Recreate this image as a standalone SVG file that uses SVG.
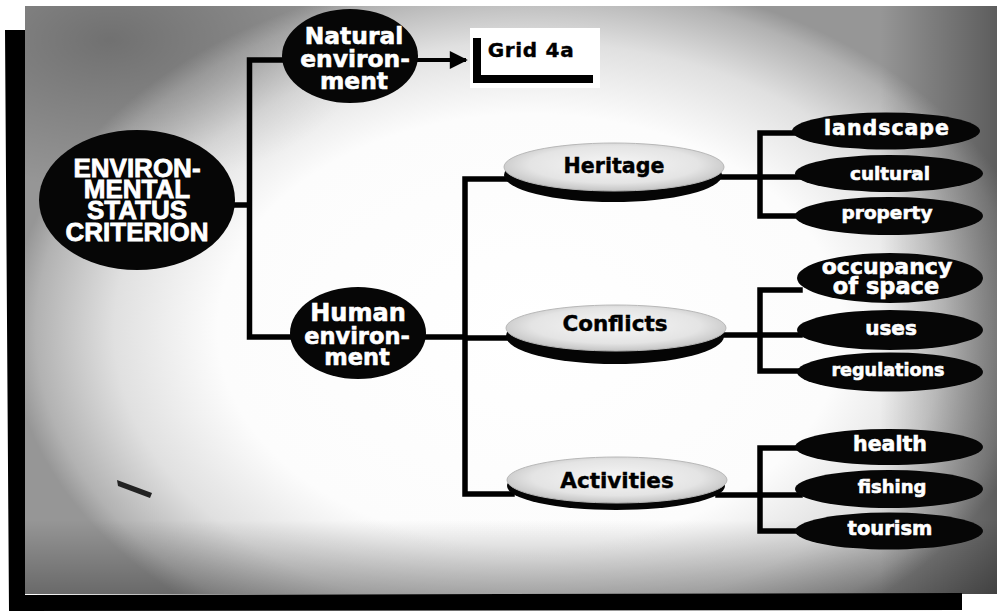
<svg xmlns="http://www.w3.org/2000/svg" width="997" height="615" viewBox="0 0 997 615">
<defs>
<radialGradient id="bg" gradientUnits="userSpaceOnUse" cx="0" cy="0" r="1" gradientTransform="translate(530 330) scale(520 360)">
<stop offset="0" stop-color="#ffffff"/>
<stop offset="0.6" stop-color="#fcfcfc"/>
<stop offset="0.8" stop-color="#e0e0e0"/>
<stop offset="0.95" stop-color="#b2b2b2"/>
<stop offset="1" stop-color="#969696"/>
</radialGradient>
<radialGradient id="tl" gradientUnits="userSpaceOnUse" cx="0" cy="0" r="1" gradientTransform="translate(110 40) scale(260 150)">
<stop offset="0" stop-color="#000" stop-opacity="0.25"/>
<stop offset="1" stop-color="#000" stop-opacity="0"/>
</radialGradient>
<linearGradient id="rdark" x1="0" y1="0" x2="1" y2="0">
<stop offset="0" stop-color="#000" stop-opacity="0"/>
<stop offset="1" stop-color="#000" stop-opacity="0.38"/>
</linearGradient>
<linearGradient id="bdark" x1="0" y1="0" x2="0" y2="1">
<stop offset="0" stop-color="#000" stop-opacity="0"/>
<stop offset="1" stop-color="#000" stop-opacity="0.3"/>
</linearGradient>
<radialGradient id="lite" cx="0.5" cy="0.45" r="0.55">
<stop offset="0" stop-color="#f6f6f6"/>
<stop offset="0.7" stop-color="#e4e4e4"/>
<stop offset="1" stop-color="#c4c4c4"/>
</radialGradient>
<marker id="arr" viewBox="0 0 10 10" refX="9" refY="5" markerWidth="6" markerHeight="4.5" markerUnits="strokeWidth" orient="auto">
<path d="M0,0 L10,5 L0,10 Z" fill="#000"/>
</marker>
</defs>
<style>
.ln{fill:none;stroke:#000;stroke-width:5.5;stroke-linecap:square}
.dk{fill:#060606}
.sh{fill:#050505}
.lt{fill:url(#lite);stroke:#b8b8b8;stroke-width:1}
.w{fill:#fff;stroke:#fff;stroke-width:0.6;font-family:"DejaVu Sans","Liberation Sans",sans-serif;font-weight:bold;text-anchor:middle}
.k{fill:#000;stroke:#000;stroke-width:0.4;font-family:"DejaVu Sans","Liberation Sans",sans-serif;font-weight:bold;text-anchor:middle}
.env{fill:#fff;stroke:#fff;stroke-width:0.8;font-family:"Liberation Sans",Arial,sans-serif;font-weight:bold;font-size:26px;text-anchor:middle}
</style>
<rect width="997" height="615" fill="#fff"/>
<rect x="25" y="6" width="972" height="588" fill="url(#bg)"/>
<rect x="25" y="6" width="400" height="220" fill="url(#tl)"/>
<rect x="880" y="6" width="117" height="588" fill="url(#rdark)"/>
<rect x="25" y="520" width="972" height="74" fill="url(#bdark)"/>
<path d="M5,30 L25,30 L25,595 L962,593 L962,610 L9,611 Z" fill="#000"/>
<path d="M117,480 L152,493 L150,498 L118,486 Z" fill="#222"/>

<g id="connectors">
<path class="ln" d="M232,205 H249.5 M249.5,60 V337 M249.5,60 H292 M249.5,337 H300"/>
<path class="ln" d="M420,337 H465 M465,179 V494 M465,179 H512 M465,338 H512 M465,494 H512"/>
<path class="ln" d="M718,177 H800 M760,133 V216 M760,133 H800 M760,216 H800"/>
<path class="ln" d="M718,335 H800 M760,290 V371 M760,290 H800 M760,371 H800"/>
<path class="ln" d="M718,495 H800 M760,448 V531 M760,448 H800 M760,531 H800"/>
<line x1="416" y1="60" x2="466" y2="60" stroke="#000" stroke-width="4" marker-end="url(#arr)"/>
</g>

<g id="env">
<ellipse class="dk" cx="137" cy="200" rx="98" ry="70"/>
<text class="env" x="137" y="177">ENVIRON-</text>
<text class="env" x="137" y="198">MENTAL</text>
<text class="env" x="137" y="219">STATUS</text>
<text class="env" x="137" y="241">CRITERION</text>
</g>

<g id="natural">
<ellipse class="dk" cx="350" cy="56" rx="68" ry="47"/>
<text class="w" x="354" y="44" font-size="23.4">Natural</text>
<text class="w" x="355" y="67" font-size="23.4">environ-</text>
<text class="w" x="354" y="89" font-size="23.4">ment</text>
</g>

<g id="grid4a">
<rect x="470" y="28" width="130" height="60" fill="#fff"/>
<path d="M473,38 H481 V75 H593 V83 H473 Z" fill="#000"/>
<text class="k" x="531" y="57" font-size="20" letter-spacing="0.7">Grid 4a</text>
</g>

<g id="human">
<ellipse class="dk" cx="358" cy="333" rx="68" ry="46"/>
<text class="w" x="358" y="321" font-size="24">Human</text>
<text class="w" x="357" y="344" font-size="22.5">environ-</text>
<text class="w" x="357" y="365" font-size="22.5">ment</text>
</g>

<g id="heritage">
<ellipse class="sh" cx="613" cy="175" rx="109" ry="27"/>
<ellipse class="lt" cx="614" cy="167" rx="110" ry="24"/>
<text class="k" x="614" y="173" font-size="20.6">Heritage</text>
</g>

<g id="conflicts">
<ellipse class="sh" cx="615" cy="336" rx="109" ry="28"/>
<ellipse class="lt" cx="616" cy="328" rx="110" ry="23"/>
<text class="k" x="615" y="331" font-size="21.5">Conflicts</text>
</g>

<g id="activities">
<ellipse class="sh" cx="616" cy="486" rx="109" ry="24"/>
<ellipse class="lt" cx="617" cy="480" rx="110" ry="23"/>
<text class="k" x="617" y="488" font-size="21.5">Activities</text>
</g>

<g id="landscape">
<ellipse class="dk" cx="886" cy="131" rx="94" ry="18.5"/>
<text class="w" x="887" y="135" font-size="20.5" letter-spacing="1">landscape</text>
</g>
<g id="cultural">
<ellipse class="dk" cx="889" cy="173.5" rx="94" ry="18.5"/>
<text class="w" x="890" y="180" font-size="18.4">cultural</text>
</g>
<g id="property">
<ellipse class="dk" cx="889" cy="216" rx="94" ry="19"/>
<text class="w" x="887" y="219" font-size="18.5">property</text>
</g>
<g id="occupancy">
<ellipse class="dk" cx="890" cy="278" rx="93" ry="25"/>
<text class="w" x="887" y="274" font-size="22">occupancy</text>
<text class="w" x="886" y="294" font-size="22.5">of space</text>
</g>
<g id="uses">
<ellipse class="dk" cx="890" cy="330" rx="93" ry="20"/>
<text class="w" x="891" y="335" font-size="20">uses</text>
</g>
<g id="regulations">
<ellipse class="dk" cx="890" cy="372" rx="93" ry="19.5"/>
<text class="w" x="888" y="376" font-size="17.6">regulations</text>
</g>
<g id="health">
<ellipse class="dk" cx="889" cy="447" rx="94" ry="18"/>
<text class="w" x="890" y="451" font-size="20.5">health</text>
</g>
<g id="fishing">
<ellipse class="dk" cx="889" cy="489" rx="94" ry="19"/>
<text class="w" x="892" y="493" font-size="18">fishing</text>
</g>
<g id="tourism">
<ellipse class="dk" cx="889" cy="531" rx="94" ry="18.5"/>
<text class="w" x="890" y="535" font-size="19.5">tourism</text>
</g>
</svg>
